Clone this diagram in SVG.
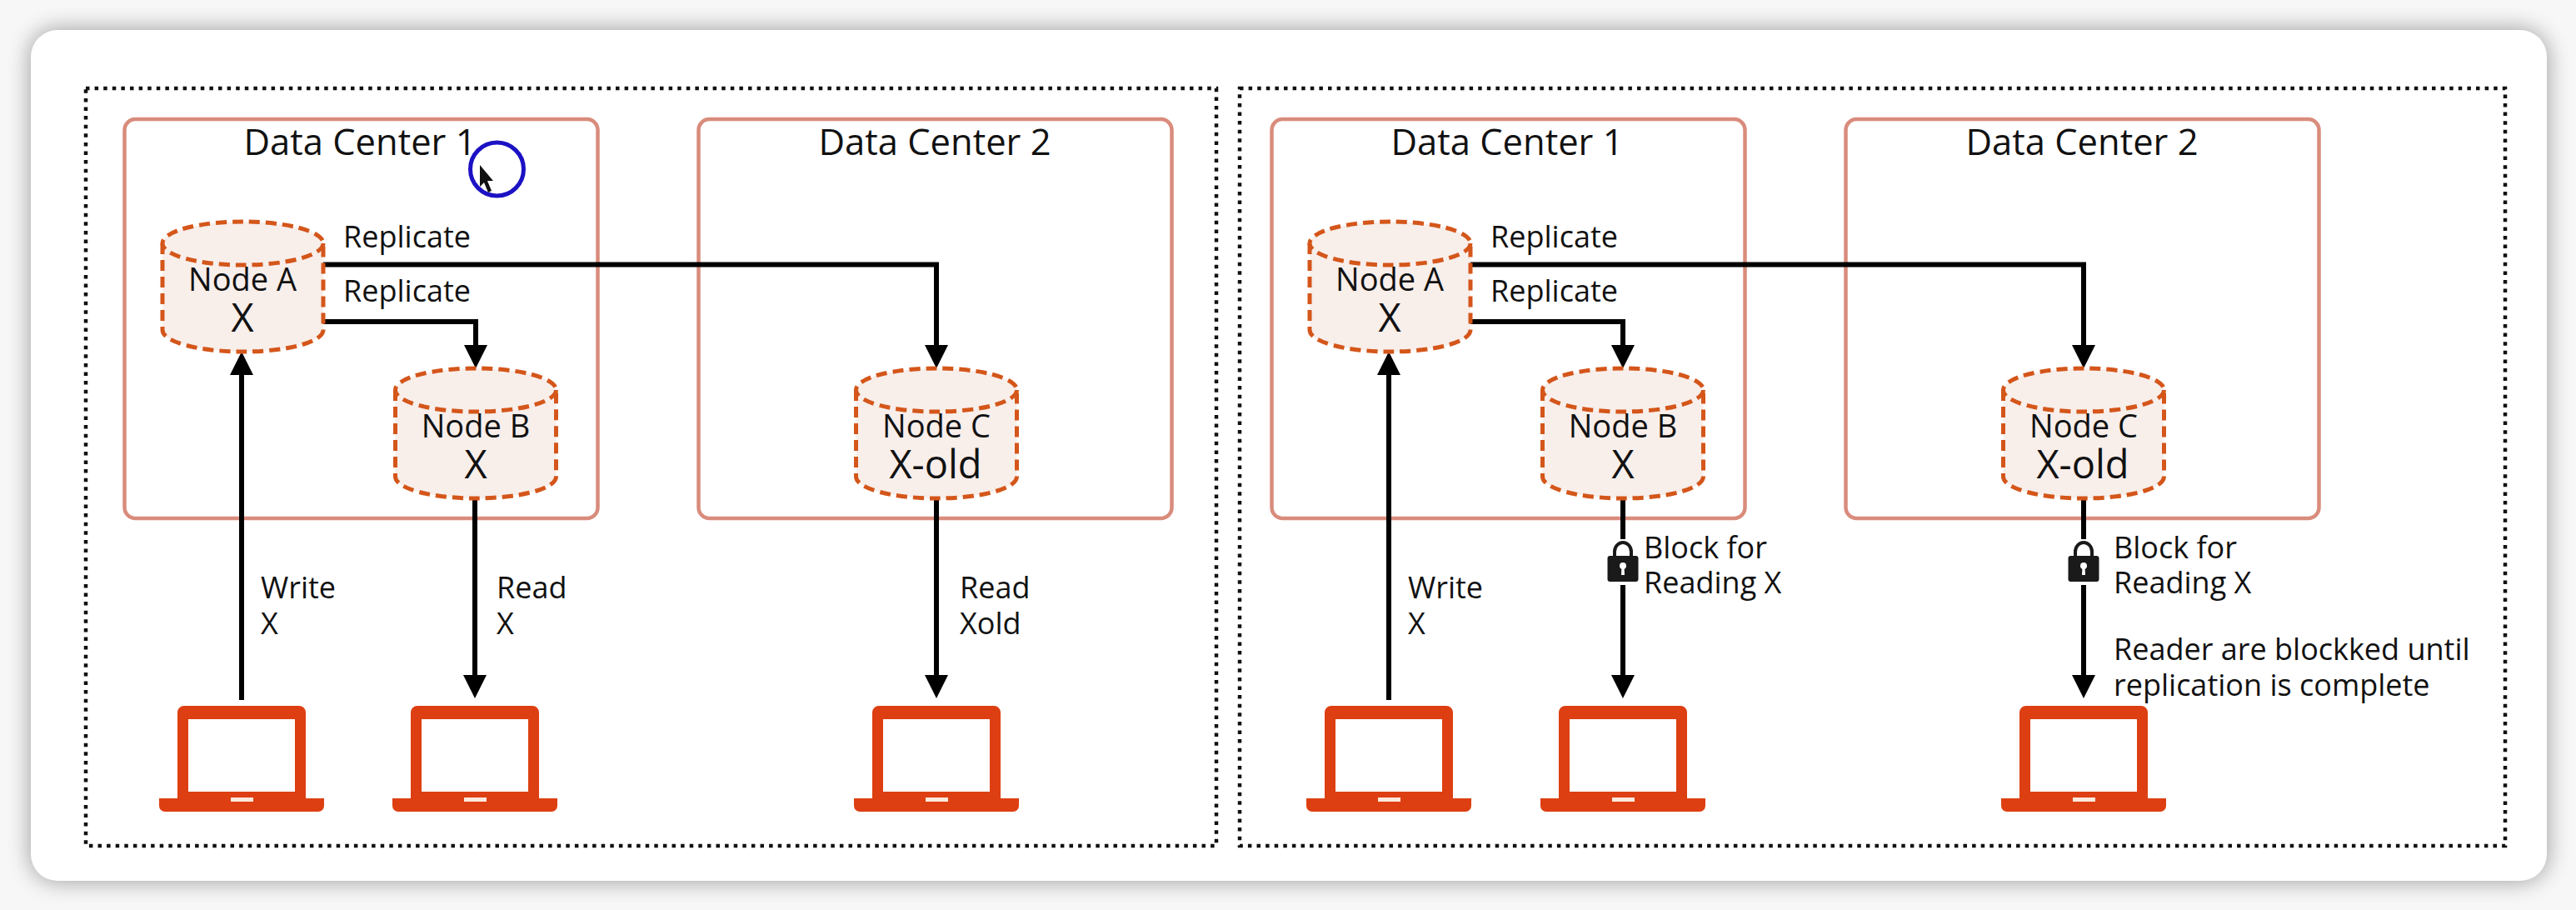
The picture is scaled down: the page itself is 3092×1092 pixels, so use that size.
<svg xmlns="http://www.w3.org/2000/svg" width="3092" height="1092" viewBox="0 0 3092 1092">
<style>
text{font-family:"Open Sans","Noto Sans","Liberation Sans",sans-serif;fill:#111}
.title{font-size:43.500px;text-anchor:middle}
.nm{font-size:38px;text-anchor:middle}
.val{font-size:47px;text-anchor:middle}
.lb{font-size:36px}
.dot{fill:none;stroke:#111;stroke-width:4.5;stroke-dasharray:4.5 6.1}
.dc{fill:#fff;stroke:#d98c7c;stroke-width:4.5}
.cyl{fill:#f8eeea;stroke:#d4561a;stroke-width:5;stroke-dasharray:13 7}
.ln{fill:none;stroke:#000;stroke-width:6}
.arr{marker-end:url(#ah)}
.lap{fill:#dd3f12}
</style>
<defs>
<filter id="sh" x="-5%" y="-15%" width="110%" height="130%"><feGaussianBlur stdDeviation="14"/></filter>
<marker id="ah" markerUnits="userSpaceOnUse" markerWidth="28" markerHeight="28" refX="14" refY="14" orient="auto"><path d="M0 0L28 14L0 28Z" fill="#000"/></marker>
<g id="laptop"><path class="lap" fill-rule="evenodd" d="M-77 -117a8 8 0 0 1 8-8H69a8 8 0 0 1 8 8V-14H99V-5a7 7 0 0 1-7 7H-92a7 7 0 0 1-7-7V-14H-77ZM-64 -109V-22H64V-109Z"/><rect x="-13" y="-15" width="27" height="5" fill="#fde8dc"/></g>
<g id="lock"><path d="M-10 16V11a10 11 0 0 1 20 0V16" fill="none" stroke="#1a1a1a" stroke-width="4"/><rect x="-18.500" y="16" width="37" height="31" rx="3" fill="#1a1a1a"/><circle cx="0" cy="28" r="4" fill="#fff"/><path d="M-1.500 28H1.500L2 39H-2Z" fill="#fff"/></g>
</defs>
<rect width="3092" height="1092" fill="#f7f7f7"/>
<rect x="37" y="36" width="3020" height="1021" rx="32" fill="#000" opacity=".38" filter="url(#sh)"/>
<rect x="37" y="36" width="3020" height="1021" rx="32" fill="#fff"/>

<g id="panel-left-frame"><rect class="dot" x="103" y="106" width="1357" height="909"/></g>
<g id="panel-right-frame"><rect class="dot" x="1488" y="106" width="1519" height="909"/></g>

<g id="dc1-left"><rect class="dc" x="149.500" y="143" width="568" height="479" rx="13"/><text class="title" x="432" y="186">Data Center 1</text></g>
<g id="dc2-left"><rect class="dc" x="838.500" y="143" width="568" height="479" rx="13"/><text class="title" x="1122" y="186">Data Center 2</text></g>
<g id="dc1-right"><rect class="dc" x="1526.500" y="143" width="568" height="479" rx="13"/><text class="title" x="1809" y="186">Data Center 1</text></g>
<g id="dc2-right"><rect class="dc" x="2215.500" y="143" width="568" height="479" rx="13"/><text class="title" x="2499" y="186">Data Center 2</text></g>

<g id="connectors">
<path class="ln arr" d="M388 317.500H1124V428"/>
<path class="ln arr" d="M388 386H571V428"/>
<path class="ln arr" d="M290 840V436"/>
<path class="ln arr" d="M570 598V824"/>
<path class="ln arr" d="M1124 598V824"/>
<path class="ln arr" d="M1765 317.500H2501V428"/>
<path class="ln arr" d="M1765 386H1948V428"/>
<path class="ln arr" d="M1667 840V436"/>
<path class="ln" d="M1948 598V647"/><path class="ln arr" d="M1948 702V824"/>
<path class="ln" d="M2501 598V647"/><path class="ln arr" d="M2501 702V824"/>
</g>

<g id="node-a-left"><path class="cyl" d="M195 292V396A96.500 26 0 0 0 388 396V292"/><ellipse class="cyl" cx="291.500" cy="292" rx="96.500" ry="26"/><text class="nm" x="291" y="349">Node A</text><text class="val" x="291" y="398">X</text></g>
<g id="node-b-left"><path class="cyl" d="M474.500 468V572A96.500 26 0 0 0 667.500 572V468"/><ellipse class="cyl" cx="571" cy="468" rx="96.500" ry="26"/><text class="nm" x="571" y="525">Node B</text><text class="val" x="571" y="574">X</text></g>
<g id="node-c-left"><path class="cyl" d="M1027.500 468V572A96.500 26 0 0 0 1220.500 572V468"/><ellipse class="cyl" cx="1124" cy="468" rx="96.500" ry="26"/><text class="nm" x="1124" y="525">Node C</text><text class="val" x="1123" y="574">X-old</text></g>
<g id="node-a-right"><path class="cyl" d="M1572 292V396A96.500 26 0 0 0 1765 396V292"/><ellipse class="cyl" cx="1668.500" cy="292" rx="96.500" ry="26"/><text class="nm" x="1668" y="349">Node A</text><text class="val" x="1668" y="398">X</text></g>
<g id="node-b-right"><path class="cyl" d="M1851.500 468V572A96.500 26 0 0 0 2044.500 572V468"/><ellipse class="cyl" cx="1948" cy="468" rx="96.500" ry="26"/><text class="nm" x="1948" y="525">Node B</text><text class="val" x="1948" y="574">X</text></g>
<g id="node-c-right"><path class="cyl" d="M2404.500 468V572A96.500 26 0 0 0 2597.500 572V468"/><ellipse class="cyl" cx="2501" cy="468" rx="96.500" ry="26"/><text class="nm" x="2501" y="525">Node C</text><text class="val" x="2500" y="574">X-old</text></g>

<g id="laptop-1"><use href="#laptop" x="290" y="972"/></g>
<g id="laptop-2"><use href="#laptop" x="570" y="972"/></g>
<g id="laptop-3"><use href="#laptop" x="1124" y="972"/></g>
<g id="laptop-4"><use href="#laptop" x="1667" y="972"/></g>
<g id="laptop-5"><use href="#laptop" x="1948" y="972"/></g>
<g id="laptop-6"><use href="#laptop" x="2501" y="972"/></g>

<g id="lock-1"><use href="#lock" x="1948" y="651"/></g>
<g id="lock-2"><use href="#lock" x="2501" y="651"/></g>

<g id="labels">
<text class="lb" x="412" y="297">Replicate</text>
<text class="lb" x="412" y="362">Replicate</text>
<text class="lb" x="1789" y="297">Replicate</text>
<text class="lb" x="1789" y="362">Replicate</text>
<text class="lb" x="313" y="718">Write</text><text class="lb" x="313" y="761">X</text>
<text class="lb" x="596" y="718">Read</text><text class="lb" x="596" y="761">X</text>
<text class="lb" x="1152" y="718">Read</text><text class="lb" x="1152" y="761">Xold</text>
<text class="lb" x="1690" y="718">Write</text><text class="lb" x="1690" y="761">X</text>
<text class="lb" x="1973" y="670">Block for</text><text class="lb" x="1973" y="712">Reading X</text>
<text class="lb" x="2537" y="670">Block for</text><text class="lb" x="2537" y="712">Reading X</text>
<text class="lb" x="2537" y="792">Reader are blockked until</text>
<text class="lb" x="2537" y="835">replication is complete</text>
</g>

<g id="cursor"><ellipse cx="596.500" cy="203" rx="32" ry="32" fill="#fff" fill-opacity="0" stroke="#1c12c4" stroke-width="5"/><path d="M576 198L592 217L585 217L590 229L586 231L581 219L576 224Z" fill="#111"/></g>
</svg>
